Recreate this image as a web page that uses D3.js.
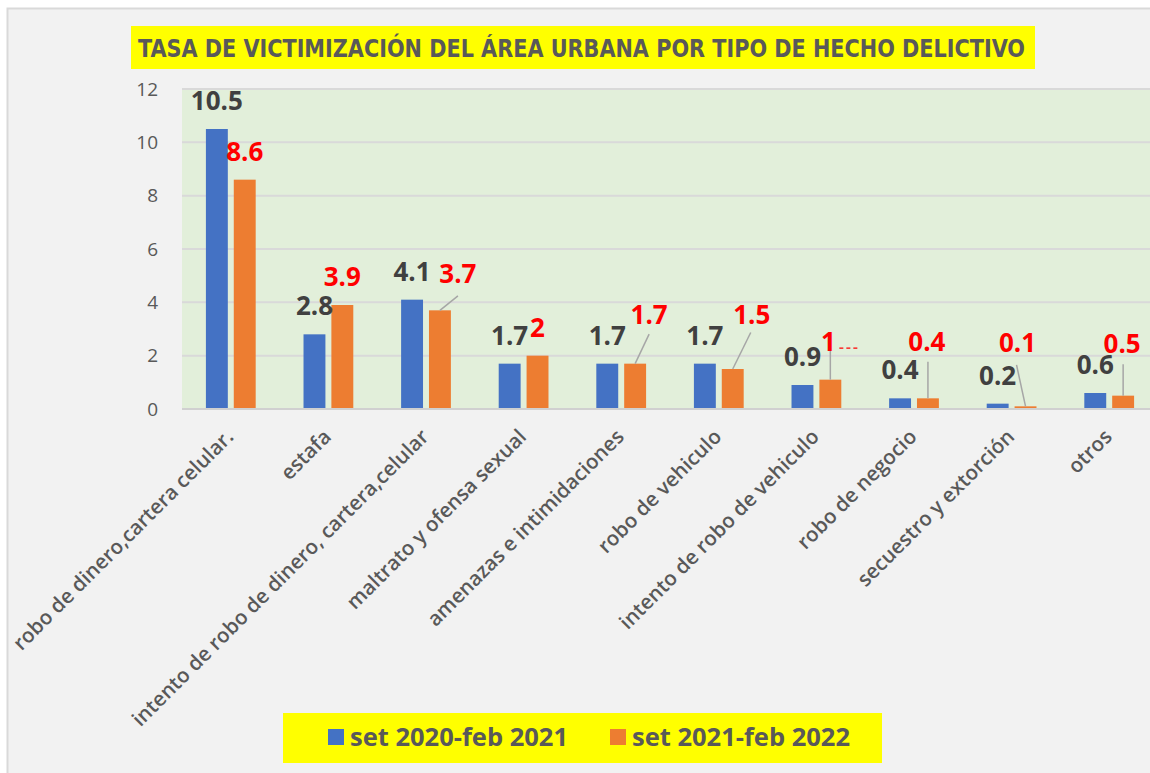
<!DOCTYPE html>
<html>
<head>
<meta charset="utf-8">
<script src="https://cdn.jsdelivr.net/npm/d3@7"></script>
<style>
  html, body { margin: 0; padding: 0; background: #ffffff; }
  svg { display: block; }
</style>
</head>
<body>
<div id="chart"></div>
<script>
// datos del gráfico
const categorias = [
  "robo de dinero,cartera celular.",
  "estafa",
  "intento de robo de dinero, cartera,celular",
  "maltrato y ofensa sexual",
  "amenazas e intimidaciones",
  "robo de vehiculo",
  "intento de robo de vehiculo",
  "robo de negocio",
  "secuestro y extorción",
  "otros"
];
const series = ["set 2020-feb 2021", "set 2021-feb 2022"];
const valores2021 = [10.5, 2.8, 4.1, 1.7, 1.7, 1.7, 0.9, 0.4, 0.2, 0.6];
const valores2022 = [8.6, 3.9, 3.7, 2, 1.7, 1.5, 1.1, 0.4, 0.1, 0.5];
const etiquetas2021 = ["10.5", "2.8", "4.1", "1.7", "1.7", "1.7", "0.9", "0.4", "0.2", "0.6"];
const etiquetas2022 = ["8.6", "3.9", "3.7", "2", "1.7", "1.5", "1", "0.4", "0.1", "0.5"];
const yTicks = [0, 2, 4, 6, 8, 10, 12];
const titulo = "TASA DE VICTIMIZACIÓN DEL ÁREA URBANA POR TIPO DE HECHO DELICTIVO";

// etiquetas movidas a mano (px) y lineas guia
const shift2022 = [[0, 0], [0, 0], [18, -8], [0, 0], [14, -21], [19, -26], [-2, -10], [-1, -28], [-8, -35], [-1, -24]];
const guia2022 = [null, null, [0, 22], null, [0, 20], [-1, 18], [2, 7], [1, 20], [-1, 22], [1, 21]];

const W = 1150, H = 773;
const PLOT = { LEFT: 182, RIGHT: 1158, TOP: 89, BOTTOM: 409 };
const COLORS = ["#4472C4", "#ED7D31"];
const TEXT = "#595959";
const FONT = "'Open Sans', 'Noto Sans', sans-serif";

const svg = d3.select("#chart")
  .append("svg")
  .attr("width", W)
  .attr("height", H);

// fondo y marco
svg.append("rect")
  .attr("x", 7.5).attr("y", 8.5)
  .attr("width", W).attr("height", H)
  .attr("fill", "#f2f2f2")
  .attr("stroke", "#d9d9d9")
  .attr("stroke-width", 2);

// escalas
const x0 = d3.scaleBand()
  .domain(categorias)
  .range([PLOT.LEFT, PLOT.RIGHT])
  .paddingInner(0.49)
  .paddingOuter(0.245);

const x1 = d3.scaleBand()
  .domain(series)
  .range([0, x0.bandwidth()])
  .paddingInner(0.214);

const y = d3.scaleLinear()
  .domain([0, 12])
  .range([PLOT.BOTTOM, PLOT.TOP]);

// area del grafico
svg.append("rect")
  .attr("x", PLOT.LEFT).attr("y", PLOT.TOP)
  .attr("width", PLOT.RIGHT - PLOT.LEFT)
  .attr("height", PLOT.BOTTOM - PLOT.TOP)
  .attr("fill", "#e2efda");

// grilla
svg.append("g")
  .selectAll("line")
  .data(yTicks)
  .join("line")
  .attr("x1", PLOT.LEFT).attr("x2", PLOT.RIGHT)
  .attr("y1", d => y(d)).attr("y2", d => y(d))
  .attr("stroke", "#d9d9d9")
  .attr("stroke-width", 2);

// eje y
const yAxis = svg.append("g")
  .attr("transform", `translate(${PLOT.LEFT}, 0)`)
  .call(d3.axisLeft(y).tickValues(yTicks).tickSize(0).tickPadding(24));
yAxis.select(".domain").remove();
yAxis.selectAll("text")
  .attr("fill", TEXT)
  .style("font-family", FONT)
  .style("font-size", "19px");

// barras
const rows = categorias.map((c, i) => ({ cat: c, i, vals: [valores2021[i], valores2022[i]] }));

const grupos = svg.append("g")
  .selectAll("g")
  .data(rows)
  .join("g")
  .attr("transform", d => `translate(${x0(d.cat)}, 0)`);

grupos.selectAll("rect")
  .data(d => d.vals.map((v, k) => ({ serie: series[k], v, k })))
  .join("rect")
  .attr("x", d => x1(d.serie))
  .attr("width", x1.bandwidth())
  .attr("y", d => y(d.v))
  .attr("height", d => y(0) - y(d.v))
  .attr("fill", d => COLORS[d.k]);

// eje x (etiquetas rotadas)
const xAxis = svg.append("g")
  .attr("transform", `translate(0, ${PLOT.BOTTOM})`)
  .call(d3.axisBottom(x0).tickSize(0).tickPadding(0));
xAxis.select(".domain").remove();
xAxis.selectAll("text")
  .attr("fill", TEXT)
  .attr("text-anchor", "end")
  .attr("dy", null)
  .attr("y", 0)
  .attr("transform", "translate(4, 29) rotate(-45)")
  .style("font-family", FONT)
  .style("font-weight", 600)
  .style("font-size", "20.5px");

// linea base
svg.append("line")
  .attr("x1", PLOT.LEFT).attr("x2", PLOT.RIGHT)
  .attr("y1", y(0)).attr("y2", y(0))
  .attr("stroke", "#d0d0d0")
  .attr("stroke-width", 2);

// etiquetas de datos
const cx = (i, k) => x0(categorias[i]) + x1(series[k]) + x1.bandwidth() / 2;
const LABEL_UP = 28.5;

svg.append("g")
  .selectAll("text")
  .data(valores2021)
  .join("text")
  .attr("x", (d, i) => cx(i, 0))
  .attr("y", d => y(d) - LABEL_UP)
  .attr("dy", "0.36em")
  .attr("text-anchor", "middle")
  .attr("fill", "#404040")
  .style("font-family", FONT)
  .style("font-weight", 700)
  .style("font-size", "26px")
  .text((d, i) => etiquetas2021[i]);

const lab22 = valores2022.map((v, i) => ({
  v, i,
  lx: cx(i, 1) + shift2022[i][0],
  ly: y(v) - LABEL_UP + shift2022[i][1]
}));

// lineas guia
svg.append("g")
  .selectAll("line")
  .data(lab22.filter(d => guia2022[d.i]))
  .join("line")
  .attr("x1", d => cx(d.i, 1))
  .attr("y1", d => y(d.v))
  .attr("x2", d => d.lx + guia2022[d.i][0])
  .attr("y2", d => d.ly + guia2022[d.i][1])
  .attr("stroke", "#a6a6a6")
  .attr("stroke-width", 1.5);

svg.append("g")
  .selectAll("text")
  .data(lab22)
  .join("text")
  .attr("x", d => d.lx)
  .attr("y", d => d.ly)
  .attr("dy", "0.36em")
  .attr("text-anchor", "middle")
  .attr("fill", "#ff0000")
  .style("font-family", FONT)
  .style("font-weight", 700)
  .style("font-size", "26px")
  .text(d => etiquetas2022[d.i]);

// etiqueta cortada ("1...") en intento de robo de vehiculo
const cortada = lab22[6];
svg.append("line")
  .attr("x1", cortada.lx + 11).attr("x2", cortada.lx + 30)
  .attr("y1", cortada.ly + 7).attr("y2", cortada.ly + 7)
  .attr("stroke", "#ff0000")
  .attr("stroke-width", 1.2)
  .attr("stroke-dasharray", "4,3");

// titulo
svg.append("rect")
  .attr("x", 131).attr("y", 26)
  .attr("width", 904).attr("height", 43)
  .attr("fill", "#ffff00");

svg.append("text")
  .attr("x", 138).attr("y", 57)
  .attr("textLength", 887)
  .attr("lengthAdjust", "spacingAndGlyphs")
  .attr("fill", TEXT)
  .style("font-family", "'Liberation Sans Narrow', 'DejaVu Sans Condensed', 'Open Sans', sans-serif")
  .style("font-weight", 700)
  .style("font-size", "25px")
  .text(titulo);

// leyenda
svg.append("rect")
  .attr("x", 283).attr("y", 713)
  .attr("width", 599).attr("height", 50)
  .attr("fill", "#ffff00");

const legX = [328, 610];
const leyenda = svg.append("g")
  .selectAll("g")
  .data(series)
  .join("g")
  .attr("transform", (d, k) => `translate(${legX[k]}, 737)`);

leyenda.append("rect")
  .attr("x", 0).attr("y", -8)
  .attr("width", 16).attr("height", 16)
  .attr("fill", (d, k) => COLORS[k]);

leyenda.append("text")
  .attr("x", 22).attr("y", 0)
  .attr("dy", "0.36em")
  .attr("fill", TEXT)
  .style("font-family", FONT)
  .style("font-weight", 700)
  .style("font-size", "25.5px")
  .text(d => d);
</script>
</body>
</html>
